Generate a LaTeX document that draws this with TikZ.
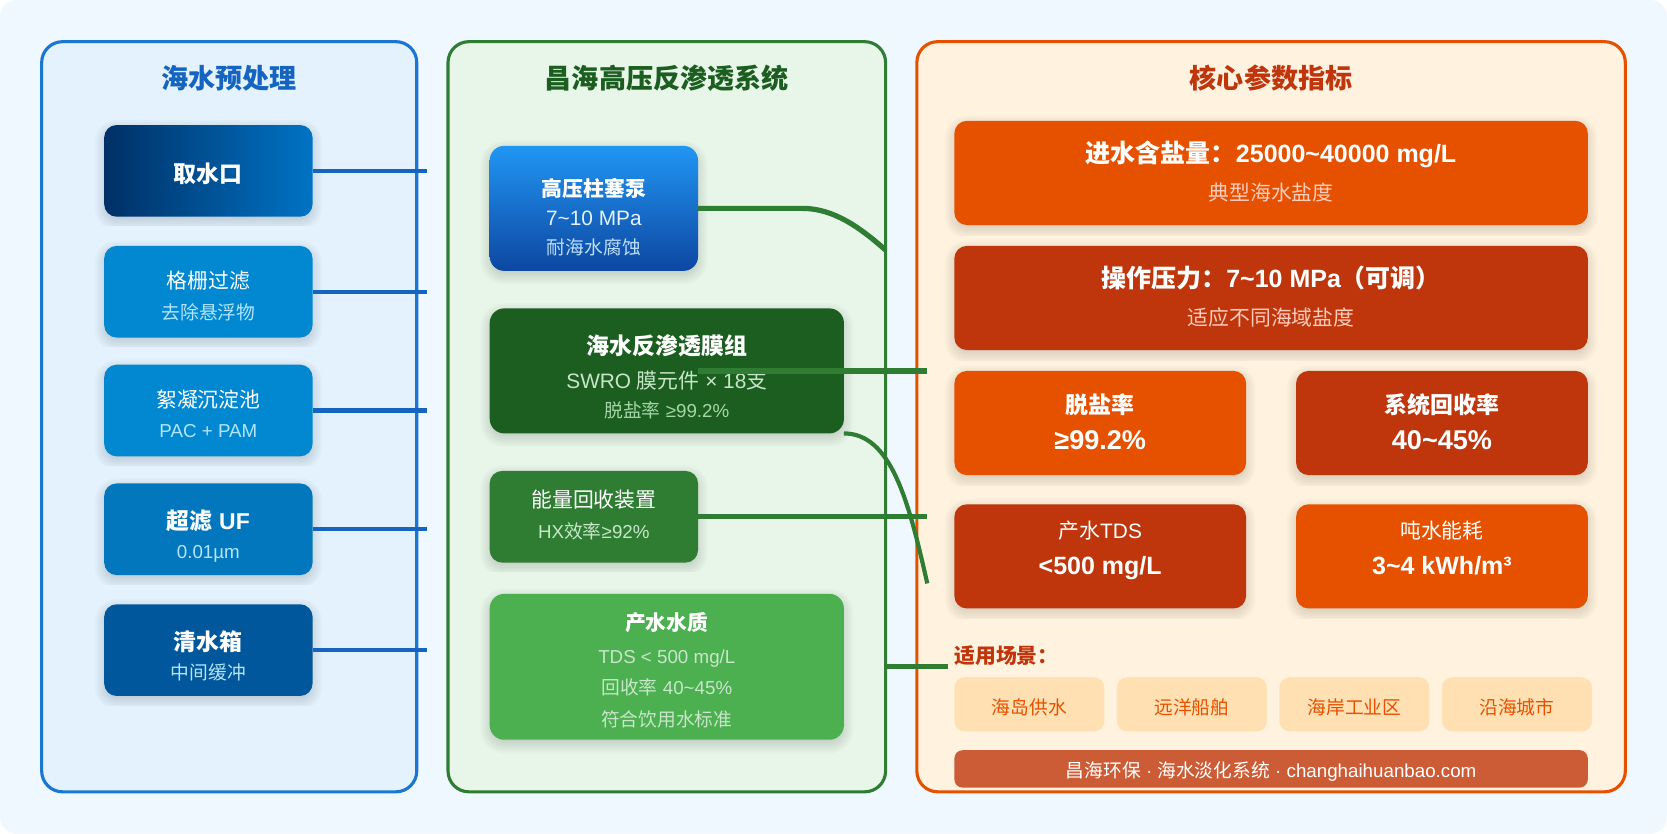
\documentclass[tikz,border=0pt]{standalone}
\usepackage{fontspec}
\setmainfont{Liberation Sans}
\newfontfamily\cjk{Noto Sans CJK SC}
\newcommand\C[1]{{\cjk #1}}
\newcommand\tld{\textasciitilde}
\definecolor{bgc}{HTML}{F0F8FF}
\definecolor{pa}{HTML}{1976D2}\definecolor{pafill}{HTML}{E3F2FD}\definecolor{pat}{HTML}{1565C0}
\definecolor{pb}{HTML}{2E7D32}\definecolor{pbfill}{HTML}{E8F5E9}\definecolor{pbt}{HTML}{1B5E20}
\definecolor{pc}{HTML}{E65100}\definecolor{pcfill}{HTML}{FFF3E0}\definecolor{pct}{HTML}{BF360C}
\definecolor{lsub}{HTML}{B3E5FC}\definecolor{asub}{HTML}{BBDEFB}\definecolor{amid}{HTML}{E3F2FD}
\definecolor{gsub}{HTML}{C8E6C9}\definecolor{gsubb}{HTML}{A5D6A7}\definecolor{osub}{HTML}{FFCCBC}
\definecolor{chipc}{HTML}{FFE0B2}\definecolor{footc}{HTML}{CC5C36}
\definecolor{lone}{HTML}{003066}\definecolor{ltwo}{HTML}{0073C4}
\definecolor{lb}{HTML}{0288D1}\definecolor{lc}{HTML}{0277BD}\definecolor{ld}{HTML}{01579B}
\definecolor{atop}{HTML}{2196F3}\definecolor{abot}{HTML}{0D47A1}\definecolor{dgreen}{HTML}{4CAF50}
\tikzset{
  panelbox/.style={rounded corners=20pt,line width=3pt,inner sep=0pt,outer sep=0pt},
  procbox/.style={rounded corners=#1,inner sep=0pt,outer sep=0pt,draw=none},
  bluelink/.style={draw=pat,line width=4pt},
  greenlink/.style={draw=pb,line width=5pt},
  greencurve/.style={draw=pb,line width=4pt},
  labeltext/.style={anchor=base,inner sep=0pt,outer sep=0pt}
}
% name x y w h r fillstyle : soft shadow and box
\newcommand\shbox[7]{%
  \begin{scope}
    \clip ({#2-0.6*#4},{#3-0.6*#5}) rectangle ({#2+0.6*#4},{#3+0.6*#5});
    \foreach \ee in {9,7,5,3,1,-1,-3}{%
      \pgfmathsetmacro\rrad{max(#6+\ee,0.5)}%
      \fill[black,opacity=0.02,rounded corners=\rrad pt]
        ({#2-#4/2-\ee},{#3-#5/2-\ee+4}) rectangle ({#2+#4/2+\ee},{#3+#5/2+\ee+4});
    }
  \end{scope}
  \node[procbox=#6pt,minimum width=#4pt,minimum height=#5pt,#7] (#1) at (#2,#3) {};
}
% name x baseline size colour fontswitch text
\newcommand\tx[7]{%
  \node[labeltext,text=#5] (#1) at (#2,#3) {\fontsize{#4}{#4}\selectfont#6#7};
}
\begin{document}
\begin{tikzpicture}[x=1pt,y=-1pt]
\useasboundingbox (0,0) rectangle (1600,800);
\fill[white] (0,0) rectangle (1600,800);
\node[procbox=16pt,minimum width=1600pt,minimum height=800pt,fill=bgc] (bg) at (800,400) {};
% panels
\node[panelbox,draw=pa,fill=pafill,minimum width=360pt,minimum height=720pt] (p1) at (220,400) {};
\node[panelbox,draw=pb,fill=pbfill,minimum width=420pt,minimum height=720pt] (p2) at (640,400) {};
\node[panelbox,draw=pc,fill=pcfill,minimum width=680pt,minimum height=720pt] (p3) at (1220,400) {};
\tx{t1}{220}{85}{26}{pat}{\bfseries}{\C{海水预处理}}
\tx{t2}{640}{85}{26}{pbt}{\bfseries}{\C{昌海高压反渗透系统}}
\tx{t3}{1220}{85}{26}{pct}{\bfseries}{\C{核心参数指标}}
% left column
\shbox{l1}{200}{164}{200}{88}{12}{left color=lone,right color=ltwo}
\shbox{l2}{200}{280}{200}{88}{12}{fill=lb}
\shbox{l3}{200}{394}{200}{88}{12}{fill=lb}
\shbox{l4}{200}{508}{200}{88}{12}{fill=lc}
\shbox{l5}{200}{624}{200}{88}{12}{fill=ld}
\tx{l1a}{200}{175}{22}{white}{\bfseries}{\C{取水口}}
\tx{l2a}{200}{277}{20}{white}{}{\C{格栅过滤}}
\tx{l2b}{200}{307}{18}{lsub}{}{\C{去除悬浮物}}
\tx{l3a}{200}{391}{20}{white}{}{\C{絮凝沉淀池}}
\tx{l3b}{200}{420}{18}{lsub}{}{PAC + PAM}
\tx{l4a}{200}{508}{22}{white}{\bfseries}{\C{超滤} UF}
\tx{l4b}{200}{536.5}{18}{lsub}{}{0.01µm}
\tx{l5a}{200}{624}{22}{white}{\bfseries}{\C{清水箱}}
\tx{l5b}{200}{652}{18}{lsub}{}{\C{中间缓冲}}
% middle column
\shbox{ma}{570}{200}{200}{120}{14}{top color=atop,bottom color=abot}
\shbox{mb}{640}{356}{340}{120}{14}{fill=pbt}
\shbox{mc}{570}{496}{200}{88}{12}{fill=pb}
\shbox{md}{640}{640}{340}{140}{14}{fill=dgreen}
\tx{maa}{570}{189}{20}{white}{\bfseries}{\C{高压柱塞泵}}
\tx{mab}{570}{216}{20}{amid}{}{7\tld10 MPa}
\tx{mac}{570}{244.5}{18}{asub}{}{\C{耐海水腐蚀}}
\tx{mba}{640}{340}{22}{white}{\bfseries}{\C{海水反渗透膜组}}
\tx{mbb}{640}{372.5}{20}{gsub}{}{SWRO \C{膜元件} × 18\C{支}}
\tx{mbc}{640}{401}{18}{gsubb}{}{\C{脱盐率} ≥99.2\%}
\tx{mca}{570}{487}{20}{white}{}{\C{能量回收装置}}
\tx{mcb}{570}{517}{18}{gsub}{}{HX\C{效率}≥92\%}
\tx{mda}{640}{605}{20}{white}{\bfseries}{\C{产水水质}}
\tx{mdb}{640}{637}{18}{gsub}{}{TDS < 500 mg/L}
\tx{mdc}{640}{667}{18}{gsub}{}{\C{回收率} 40\tld45\%}
\tx{mdd}{640}{697}{18}{gsub}{}{\C{符合饮用水标准}}
% right column
\shbox{r1}{1220}{166}{608}{100}{12}{fill=pc}
\shbox{r2}{1220}{286}{608}{100}{12}{fill=pct}
\shbox{r3}{1056}{406}{280}{100}{12}{fill=pc}
\shbox{r4}{1384}{406}{280}{100}{12}{fill=pct}
\shbox{r5}{1056}{534}{280}{100}{12}{fill=pct}
\shbox{r6}{1384}{534}{280}{100}{12}{fill=pc}
\tx{r1a}{1220}{156}{24}{white}{\bfseries}{\C{进水含盐量：}25000\tld40000 mg/L}
\tx{r1b}{1220}{192}{20}{osub}{}{\C{典型海水盐度}}
\tx{r2a}{1220}{276}{24}{white}{\bfseries}{\C{操作压力：}7\tld10 MPa\C{（可调）}}
\tx{r2b}{1220}{312}{20}{osub}{}{\C{适应不同海域盐度}}
\tx{r3a}{1056}{397}{22}{white}{\bfseries}{\C{脱盐率}}
\tx{r3b}{1056}{431}{26}{white}{\bfseries}{≥99.2\%}
\tx{r4a}{1384}{397}{22}{white}{\bfseries}{\C{系统回收率}}
\tx{r4b}{1384}{431}{26}{white}{\bfseries}{40\tld45\%}
\tx{r5a}{1056}{517}{20}{white}{}{\C{产水}TDS}
\tx{r5b}{1056}{551}{24}{white}{\bfseries}{<500 mg/L}
\tx{r6a}{1384}{517}{20}{white}{}{\C{吨水能耗}}
\tx{r6b}{1384}{551}{24}{white}{\bfseries}{3\tld4 kWh/m³}
\node[labeltext,anchor=base west,text=pct] (sc) at (916,636.5) {\fontsize{20}{20}\selectfont\bfseries\C{适用场景：}};
\node[procbox=10pt,minimum width=144pt,minimum height=52pt,fill=chipc] (c1) at (988,676) {};
\node[procbox=10pt,minimum width=144pt,minimum height=52pt,fill=chipc] (c2) at (1144,676) {};
\node[procbox=10pt,minimum width=144pt,minimum height=52pt,fill=chipc] (c3) at (1300,676) {};
\node[procbox=10pt,minimum width=144pt,minimum height=52pt,fill=chipc] (c4) at (1456,676) {};
\tx{c1t}{988}{685.5}{18}{pc}{}{\C{海岛供水}}
\tx{c2t}{1144}{685.5}{18}{pc}{}{\C{远洋船舶}}
\tx{c3t}{1300}{685.5}{18}{pc}{}{\C{海岸工业区}}
\tx{c4t}{1456}{685.5}{18}{pc}{}{\C{沿海城市}}
\node[procbox=8pt,minimum width=608pt,minimum height=36pt,fill=footc] (ft) at (1220,738) {};
\tx{ftt}{1220}{746}{18}{white}{}{\C{昌海环保} · \C{海水淡化系统} · changhaihuanbao.com}
% connectors
\coordinate (e1) at (410,164);\coordinate (e2) at (410,280);\coordinate (e3) at (410,394);
\coordinate (e4) at (410,508);\coordinate (e5) at (410,624);
\draw[bluelink] (l1.east) -- (e1);
\draw[bluelink] (l2.east) -- (e2);
\draw[bluelink] (l3.east) -- (e3);
\draw[bluelink] (l4.east) -- (e4);
\draw[bluelink] (l5.east) -- (e5);
\coordinate (g1) at (850,240);\coordinate (g2) at (890,356);\coordinate (g3) at (890,560);
\coordinate (g4) at (890,496);\coordinate (g5) at (910,640);
\draw[greenlink] (ma.east) -- (770,200) .. controls (800,200) and (825,218) .. (g1);
\draw[greenlink] (ma.east |- mb.center) -- (g2);
\draw[greencurve] (mb.south east) .. controls (855,416) and (872,480) .. (g3);
\draw[greenlink] (mc.east) -- (g4);
\draw[greenlink] (p2.east |- md.center) -- (g5);
\end{tikzpicture}
\end{document}
